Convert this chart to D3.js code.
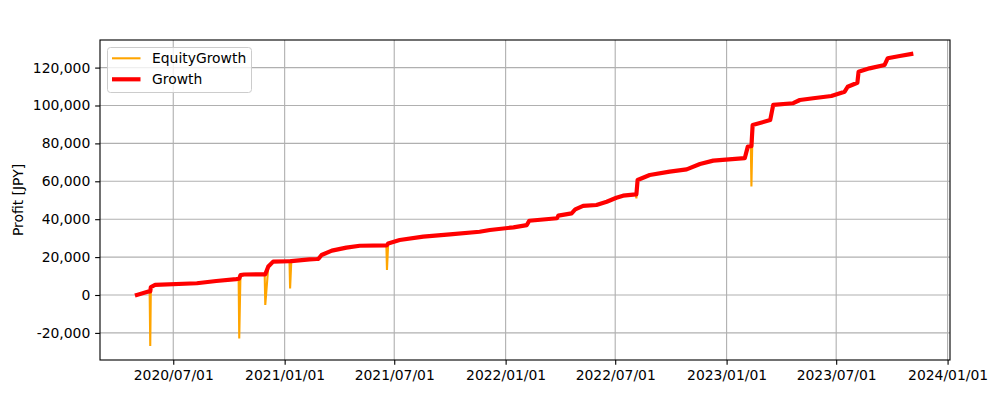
<!DOCTYPE html>
<html>
<head>
<meta charset="utf-8">
<script src="https://cdn.jsdelivr.net/npm/d3@7"></script>
<style>
  html, body { margin: 0; padding: 0; background: #fff; }
  svg { display: block; }
  text { font-family: "DejaVu Sans", sans-serif; }
</style>
</head>
<body>
<svg id="chart" width="1000" height="400"></svg>
<script>
// ---- data ----
const dates = [
  "2020-05-02","2020-05-21","2020-05-23","2020-05-24","2020-05-25","2020-06-01","2020-08-09","2020-09-10","2020-10-13",
  "2020-10-17","2020-10-18","2020-10-20","2020-10-26","2020-11-29","2020-11-30","2020-12-05","2020-12-13","2021-01-09","2021-01-10","2021-01-12",
  "2021-02-11","2021-02-23","2021-02-26","2021-03-03","2021-03-20","2021-04-13","2021-05-05","2021-06-18","2021-06-19",
  "2021-06-21","2021-07-10","2021-08-18","2021-10-01","2021-11-19","2021-12-06","2022-01-14","2022-02-05",
  "2022-02-09","2022-03-27","2022-03-29","2022-04-20","2022-04-26","2022-05-09","2022-05-31","2022-06-17",
  "2022-07-03","2022-07-14","2022-08-04","2022-08-05","2022-08-07","2022-08-27","2022-09-29","2022-10-27","2022-11-18",
  "2022-12-10","2023-01-31","2023-02-05","2023-02-10","2023-02-11","2023-02-13","2023-03-14","2023-03-19","2023-04-21",
  "2023-05-02","2023-05-24","2023-06-23","2023-07-15","2023-07-20","2023-08-05","2023-08-07","2023-08-25",
  "2023-09-19","2023-09-24","2023-10-14","2023-11-02"
];
const growth = [
  0, 1800, 1900, 1900, 4200, 5300, 6200, 7400, 8400,
  8600, 8600, 10500, 10800, 10900, 10900, 15000, 17600, 17800, 17800, 17900,
  18800, 19000, 19100, 21100, 23400, 25000, 26000, 26200, 26300,
  27200, 29000, 30800, 32000, 33400, 34300, 35700, 36900,
  39200, 40500, 41900, 43100, 45200, 47000, 47500, 49200,
  51300, 52400, 53100, 53100, 60700, 63300, 65100, 66300, 69100,
  70900, 72200, 78300, 78500, 78500, 89700, 92300, 100300, 101200,
  102900, 103800, 105000, 107300, 109900, 112000, 117800, 119600,
  121400, 124900, 126100, 127200
];
const equity = [
  0, 1800, 1900, -26900, 4200, 5300, 6200, 7400, 8400,
  8600, -22900, 10500, 10800, 10900, -5300, 15000, 17600, 17800, 3500, 17900,
  18800, 19000, 19100, 21100, 23400, 25000, 26000, 26200, 13200,
  27200, 29000, 30800, 32000, 33400, 34300, 35700, 36900,
  39200, 40500, 41900, 43100, 45200, 47000, 47500, 49200,
  51300, 52400, 53100, 51000, 60700, 63300, 65100, 66300, 69100,
  70900, 72200, 78300, 78500, 57200, 89700, 92300, 100300, 101200,
  102900, 103800, 105000, 107300, 109900, 112000, 117800, 119600,
  121400, 124900, 126100, 127200
];
const xTickLabels = ["2020/07/01","2021/01/01","2021/07/01","2022/01/01","2022/07/01","2023/01/01","2023/07/01","2024/01/01"];
const yTickValues = [-20000, 0, 20000, 40000, 60000, 80000, 100000, 120000];
const seriesNames = ["EquityGrowth", "Growth"];
const yLabel = "Profit [JPY]";

// ---- layout ----
const svg = d3.select("#chart");
const L = 100, R = 950, T = 40, B = 360;
const parse = d3.timeParse("%Y-%m-%d");
const parseTick = d3.timeParse("%Y/%m/%d");
const fmtTick = d3.timeFormat("%Y/%m/%d");

const x = d3.scaleTime().domain([parse("2020-03-02"), parse("2024-01-05")]).range([L, R]);
const y = d3.scaleLinear().domain([-34300, 134560]).range([B, T]);

const FS = 13.9;
const gridColor = "#b0b0b0";

// grid
const g = svg.append("g");
const xTicks = xTickLabels.map(parseTick);
g.selectAll("line.gx").data(xTicks).join("line")
  .attr("x1", d => x(d)).attr("x2", d => x(d)).attr("y1", T).attr("y2", B)
  .attr("stroke", gridColor).attr("stroke-width", 1.11);
g.selectAll("line.gy").data(yTickValues).join("line")
  .attr("y1", d => y(d)).attr("y2", d => y(d)).attr("x1", L).attr("x2", R)
  .attr("stroke", gridColor).attr("stroke-width", 1.11);

// lines
const pts = dates.map((d, i) => ({ d: parse(d), g: growth[i], e: equity[i] }));
svg.append("clipPath").attr("id", "clip").append("rect")
  .attr("x", L).attr("y", T).attr("width", R - L).attr("height", B - T);
const eqLine = d3.line().x(p => x(p.d)).y(p => y(p.e));
const grLine = d3.line().x(p => x(p.d)).y(p => y(p.g));
svg.append("path").datum(pts).attr("d", eqLine).attr("fill", "none")
  .attr("stroke", "#ffa500").attr("stroke-width", 2.08).attr("clip-path", "url(#clip)");
svg.append("path").datum(pts).attr("d", grLine).attr("fill", "none")
  .attr("stroke", "#ff0000").attr("stroke-width", 4.17).attr("stroke-linejoin", "round")
  .attr("stroke-linecap", "square").attr("clip-path", "url(#clip)");

// axes
const fmtY = v => d3.format(",")(v).replace("\u2212", "-");
const xAxis = d3.axisBottom(x).tickValues(xTicks).tickFormat(fmtTick).tickSizeOuter(0).tickSize(4.86).tickPadding(4.86);
const yAxis = d3.axisLeft(y).tickValues(yTickValues).tickFormat(fmtY).tickSizeOuter(0).tickSize(4.86).tickPadding(4.86);
const gx = svg.append("g").attr("transform", `translate(0,${B})`).call(xAxis);
const gy = svg.append("g").attr("transform", `translate(${L},0)`).call(yAxis);
[gx, gy].forEach(a => {
  a.select(".domain").remove();
  a.selectAll(".tick line").attr("stroke", "#000").attr("stroke-width", 1.11);
  a.selectAll(".tick text").attr("fill", "#000").style("font-size", FS + "px").style("font-family", "DejaVu Sans");
});

// spines
svg.append("rect").attr("x", L).attr("y", T).attr("width", R - L).attr("height", B - T)
  .attr("fill", "none").attr("stroke", "#000").attr("stroke-width", 1.11);

// y label
svg.append("text").attr("transform", `translate(23,${(T + B) / 2}) rotate(-90)`)
  .attr("text-anchor", "middle").style("font-size", FS + "px").attr("fill", "#000").text(yLabel);

// legend
const lg = svg.append("g");
lg.append("rect").attr("x", 107.5).attr("y", 47.5).attr("width", 144).attr("height", 45)
  .attr("rx", 3).attr("fill", "#fff").attr("fill-opacity", 0.8).attr("stroke", "#cccccc").attr("stroke-width", 1);
const legItems = [
  { name: seriesNames[0], color: "#ffa500", w: 2.08, cy: 58.3 },
  { name: seriesNames[1], color: "#ff0000", w: 4.17, cy: 79.3 }
];
legItems.forEach(it => {
  lg.append("line").attr("x1", 112).attr("x2", 140.5).attr("y1", it.cy).attr("y2", it.cy)
    .attr("stroke", it.color).attr("stroke-width", it.w);
  lg.append("text").attr("x", 152).attr("y", it.cy).attr("dy", "0.35em")
    .style("font-size", FS + "px").attr("fill", "#000").text(it.name);
});
</script>
</body>
</html>
